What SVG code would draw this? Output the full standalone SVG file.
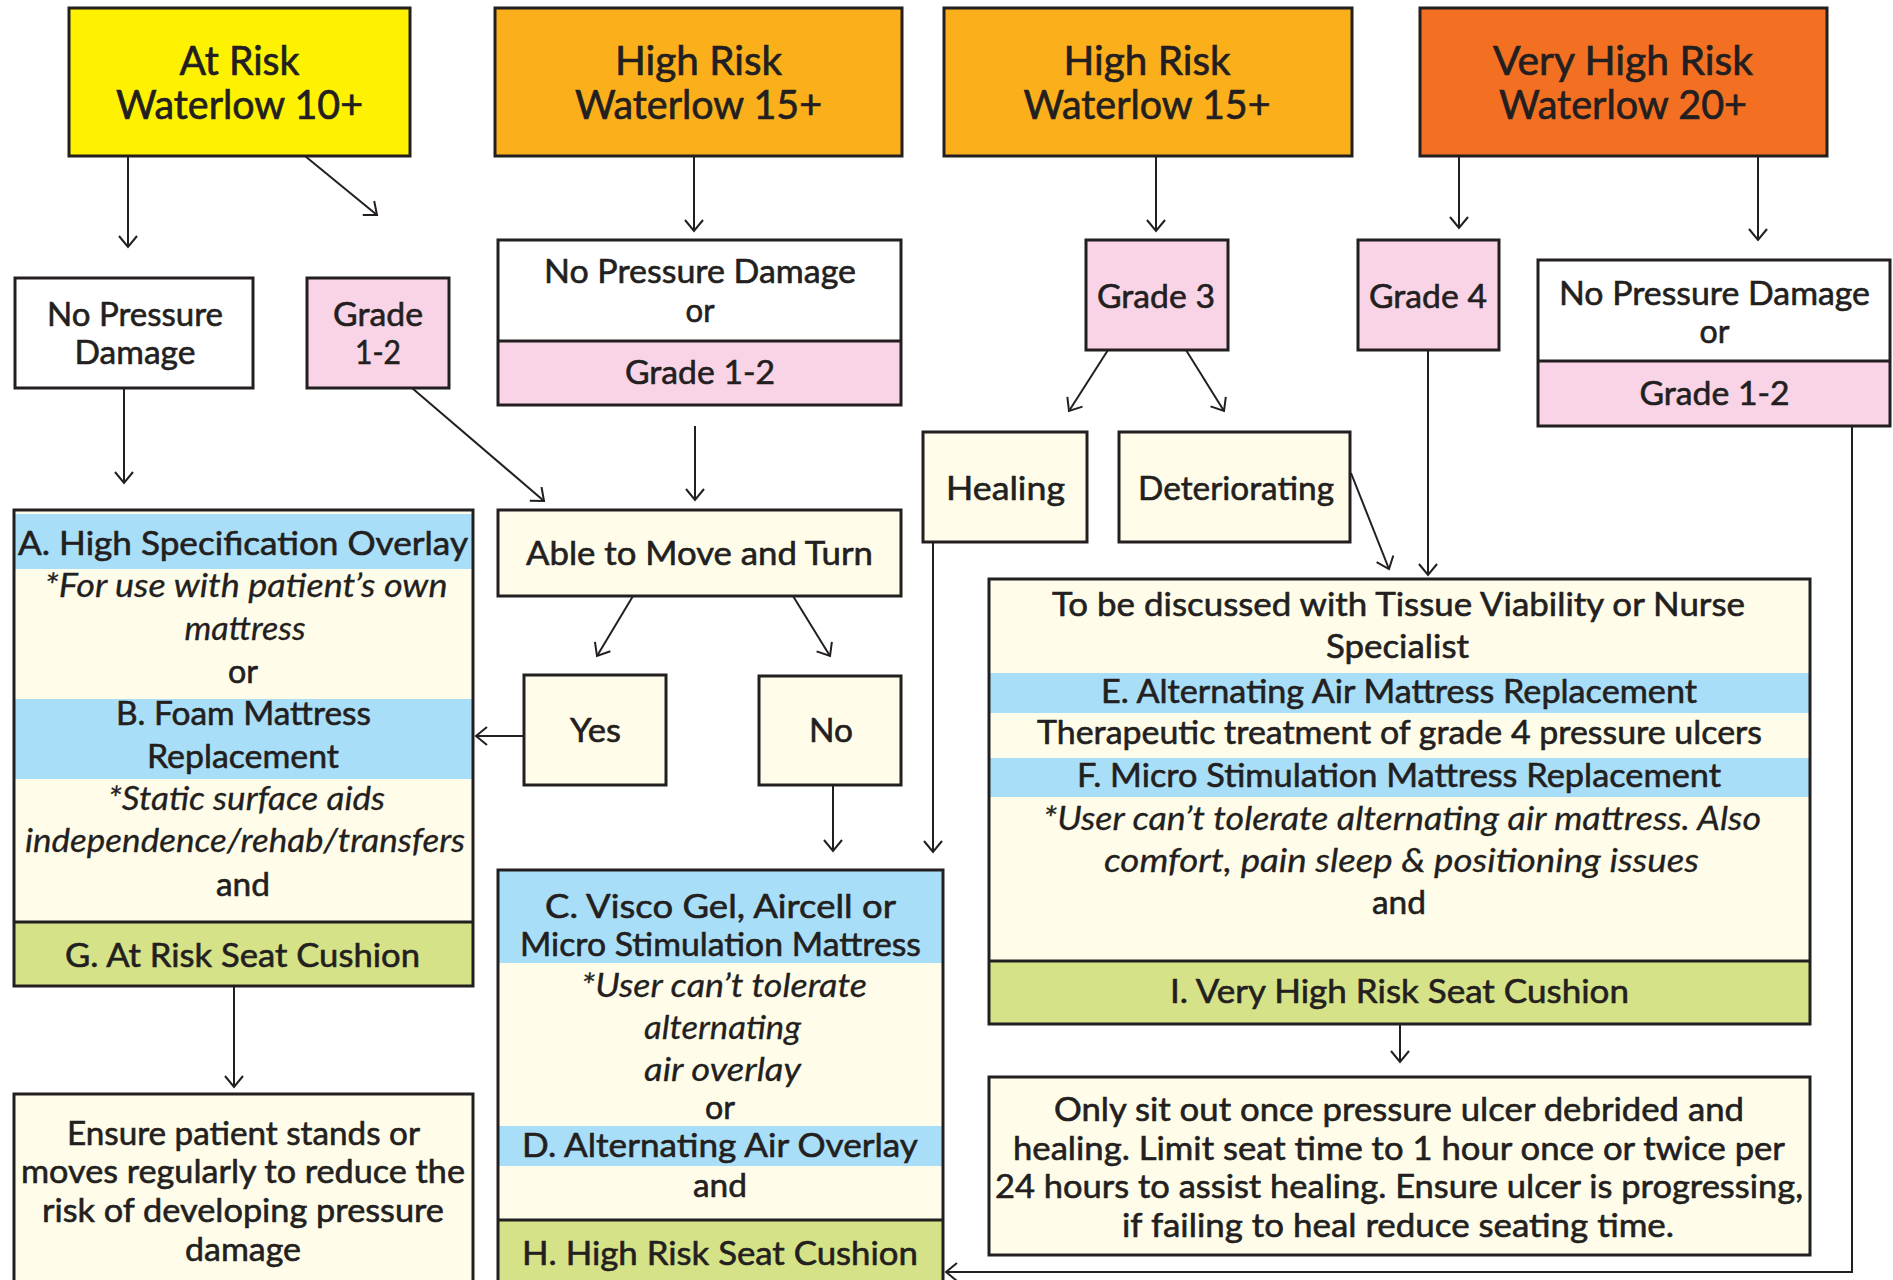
<svg xmlns="http://www.w3.org/2000/svg" width="1893" height="1280" viewBox="0 0 1893 1280">
<style>
.t{font-family:Lato,"Liberation Sans",sans-serif;font-size:33px;fill:#231F20;stroke:#231F20;stroke-width:0.6;text-anchor:middle}
.h{font-size:40px;stroke-width:0.7}
.i{font-style:italic;stroke-width:0.3}
.o{fill:none;stroke:#231F20;stroke-width:3}
.c{fill:none;stroke:#231F20;stroke-width:2}
.cream{fill:#FFFDEA}
.blue{fill:#A9DEF8}
.green{fill:#D6E287}
.pink{fill:#F9D4E6}
.white{fill:#FFFFFF}
</style>
<defs>
<marker id="ah" markerUnits="userSpaceOnUse" markerWidth="24" markerHeight="24" refX="12" refY="10" orient="auto" viewBox="0 0 24 24">
<path d="M1,1 L12,10 L1,19" fill="none" stroke="#231F20" stroke-width="2"/>
</marker>
</defs>
<rect width="1893" height="1280" fill="#FFFFFF"/>

<g id="connectors">
<line class="c" x1="128" y1="156" x2="128" y2="247" marker-end="url(#ah)"/>
<line class="c" x1="305" y1="156" x2="377" y2="215" marker-end="url(#ah)"/>
<line class="c" x1="694" y1="156" x2="694" y2="231" marker-end="url(#ah)"/>
<line class="c" x1="1156" y1="156" x2="1156" y2="231" marker-end="url(#ah)"/>
<line class="c" x1="1459" y1="156" x2="1459" y2="228" marker-end="url(#ah)"/>
<line class="c" x1="1758" y1="156" x2="1758" y2="240" marker-end="url(#ah)"/>
<line class="c" x1="124" y1="388" x2="124" y2="483" marker-end="url(#ah)"/>
<line class="c" x1="412" y1="388" x2="544" y2="501" marker-end="url(#ah)"/>
<line class="c" x1="695" y1="426" x2="695" y2="500" marker-end="url(#ah)"/>
<line class="c" x1="1108" y1="350" x2="1069" y2="411" marker-end="url(#ah)"/>
<line class="c" x1="1186" y1="350" x2="1224" y2="411" marker-end="url(#ah)"/>
<line class="c" x1="1351" y1="473" x2="1389" y2="569" marker-end="url(#ah)"/>
<line class="c" x1="1428" y1="350" x2="1428" y2="575" marker-end="url(#ah)"/>
<line class="c" x1="633" y1="596" x2="597" y2="656" marker-end="url(#ah)"/>
<line class="c" x1="793" y1="596" x2="830" y2="656" marker-end="url(#ah)"/>
<line class="c" x1="524" y1="736" x2="476" y2="736" marker-end="url(#ah)"/>
<line class="c" x1="833" y1="785" x2="833" y2="851" marker-end="url(#ah)"/>
<line class="c" x1="933" y1="542" x2="933" y2="852" marker-end="url(#ah)"/>
<line class="c" x1="234" y1="986" x2="234" y2="1087" marker-end="url(#ah)"/>
<line class="c" x1="1400" y1="1024" x2="1400" y2="1062" marker-end="url(#ah)"/>
<polyline class="c" points="1852,426 1852,1272 946,1272" marker-end="url(#ah)"/>
</g>

<g id="at-risk">
<rect x="69" y="8" width="341" height="148" fill="#FFF200"/>
<rect class="o" x="69" y="8" width="341" height="148"/>
<text class="t h" x="239.5" y="75" textLength="120" lengthAdjust="spacingAndGlyphs">At Risk</text>
<text class="t h" x="239.5" y="119" textLength="247" lengthAdjust="spacingAndGlyphs">Waterlow 10+</text>
</g>

<g id="high-risk-1">
<rect x="495" y="8" width="407" height="148" fill="#FBB01B"/>
<rect class="o" x="495" y="8" width="407" height="148"/>
<text class="t h" x="698.5" y="75" textLength="167" lengthAdjust="spacingAndGlyphs">High Risk</text>
<text class="t h" x="698.5" y="119" textLength="247" lengthAdjust="spacingAndGlyphs">Waterlow 15+</text>
</g>

<g id="high-risk-2">
<rect x="944" y="8" width="408" height="148" fill="#FBB01B"/>
<rect class="o" x="944" y="8" width="408" height="148"/>
<text class="t h" x="1147" y="75" textLength="167" lengthAdjust="spacingAndGlyphs">High Risk</text>
<text class="t h" x="1147" y="119" textLength="247" lengthAdjust="spacingAndGlyphs">Waterlow 15+</text>
</g>

<g id="very-high-risk">
<rect x="1420" y="8" width="407" height="148" fill="#F37022"/>
<rect class="o" x="1420" y="8" width="407" height="148"/>
<text class="t h" x="1623" y="75" textLength="260" lengthAdjust="spacingAndGlyphs">Very High Risk</text>
<text class="t h" x="1623" y="119" textLength="248" lengthAdjust="spacingAndGlyphs">Waterlow 20+</text>
</g>

<g id="no-pressure-1">
<rect class="white o" x="15" y="278" width="238" height="110"/>
<text class="t" x="135" y="326" textLength="176" lengthAdjust="spacingAndGlyphs">No Pressure</text>
<text class="t" x="135" y="364" textLength="121" lengthAdjust="spacingAndGlyphs">Damage</text>
</g>

<g id="grade12-1">
<rect class="pink o" x="307" y="278" width="142" height="110"/>
<text class="t" x="378" y="326" textLength="90" lengthAdjust="spacingAndGlyphs">Grade</text>
<text class="t" x="378" y="364" textLength="46" lengthAdjust="spacingAndGlyphs">1-2</text>
</g>

<g id="np-or-grade-1">
<rect class="white" x="498" y="240" width="403" height="101"/>
<rect class="pink" x="498" y="341" width="403" height="64"/>
<rect class="o" x="498" y="240" width="403" height="165"/>
<line class="o" x1="498" y1="341" x2="901" y2="341"/>
<text class="t" x="700" y="283" textLength="312" lengthAdjust="spacingAndGlyphs">No Pressure Damage</text>
<text class="t" x="700" y="322" textLength="29" lengthAdjust="spacingAndGlyphs">or</text>
<text class="t" x="700" y="384" textLength="150" lengthAdjust="spacingAndGlyphs">Grade 1-2</text>
</g>

<g id="grade3">
<rect class="pink o" x="1086" y="240" width="142" height="110"/>
<text class="t" x="1156" y="308" textLength="118" lengthAdjust="spacingAndGlyphs">Grade 3</text>
</g>

<g id="grade4">
<rect class="pink o" x="1358" y="240" width="141" height="110"/>
<text class="t" x="1428" y="308" textLength="118" lengthAdjust="spacingAndGlyphs">Grade 4</text>
</g>

<g id="np-or-grade-2">
<rect class="white" x="1538" y="260" width="352" height="101"/>
<rect class="pink" x="1538" y="361" width="352" height="65"/>
<rect class="o" x="1538" y="260" width="352" height="166"/>
<line class="o" x1="1538" y1="361" x2="1890" y2="361"/>
<text class="t" x="1714.5" y="305" textLength="311" lengthAdjust="spacingAndGlyphs">No Pressure Damage</text>
<text class="t" x="1714.5" y="343" textLength="30" lengthAdjust="spacingAndGlyphs">or</text>
<text class="t" x="1714.5" y="405" textLength="150" lengthAdjust="spacingAndGlyphs">Grade 1-2</text>
</g>

<g id="healing">
<rect class="cream o" x="923" y="432" width="164" height="110"/>
<text class="t" x="1005.5" y="500" textLength="119" lengthAdjust="spacingAndGlyphs">Healing</text>
</g>

<g id="deteriorating">
<rect class="cream o" x="1119" y="432" width="231" height="110"/>
<text class="t" x="1236" y="500" textLength="196" lengthAdjust="spacingAndGlyphs">Deteriorating</text>
</g>

<g id="able-to-move">
<rect class="cream o" x="498" y="510" width="403" height="86"/>
<text class="t" x="699.5" y="565" textLength="347" lengthAdjust="spacingAndGlyphs">Able to Move and Turn</text>
</g>

<g id="yes">
<rect class="cream o" x="524" y="675" width="142" height="110"/>
<text class="t" x="595.5" y="742" textLength="51" lengthAdjust="spacingAndGlyphs">Yes</text>
</g>

<g id="no">
<rect class="cream o" x="759" y="676" width="142" height="109"/>
<text class="t" x="831" y="742" textLength="44" lengthAdjust="spacingAndGlyphs">No</text>
</g>

<g id="box-a-b-g">
<rect class="cream" x="14" y="510" width="459" height="412"/>
<rect class="blue" x="15" y="514" width="457" height="55"/>
<rect class="blue" x="15" y="699" width="457" height="80"/>
<rect class="green" x="14" y="922" width="459" height="64"/>
<rect class="o" x="14" y="510" width="459" height="476"/>
<line class="o" x1="14" y1="922" x2="473" y2="922"/>
<text class="t" x="243" y="555" textLength="450" lengthAdjust="spacingAndGlyphs">A. High Specification Overlay</text>
<text class="t i" x="246" y="597" textLength="403" lengthAdjust="spacingAndGlyphs">*For use with patient’s own</text>
<text class="t i" x="245" y="640" textLength="121" lengthAdjust="spacingAndGlyphs">mattress</text>
<text class="t" x="243" y="683" textLength="30" lengthAdjust="spacingAndGlyphs">or</text>
<text class="t" x="243.5" y="725" textLength="255" lengthAdjust="spacingAndGlyphs">B. Foam Mattress</text>
<text class="t" x="243" y="768" textLength="192" lengthAdjust="spacingAndGlyphs">Replacement</text>
<text class="t i" x="246.5" y="810" textLength="277" lengthAdjust="spacingAndGlyphs">*Static surface aids</text>
<text class="t i" x="245" y="852" textLength="440" lengthAdjust="spacingAndGlyphs">independence/rehab/transfers</text>
<text class="t" x="243" y="896" textLength="54" lengthAdjust="spacingAndGlyphs">and</text>
<text class="t" x="242.5" y="967" textLength="355" lengthAdjust="spacingAndGlyphs">G. At Risk Seat Cushion</text>
</g>

<g id="ensure">
<rect class="cream o" x="14" y="1094" width="459" height="210"/>
<text class="t" x="243.5" y="1145" textLength="353" lengthAdjust="spacingAndGlyphs">Ensure patient stands or</text>
<text class="t" x="243" y="1183" textLength="444" lengthAdjust="spacingAndGlyphs">moves regularly to reduce the</text>
<text class="t" x="243" y="1222" textLength="402" lengthAdjust="spacingAndGlyphs">risk of developing pressure</text>
<text class="t" x="243" y="1261" textLength="116" lengthAdjust="spacingAndGlyphs">damage</text>
</g>

<g id="box-c-d-h">
<rect class="cream" x="498" y="870" width="445" height="430"/>
<rect class="blue" x="499" y="870" width="443" height="93"/>
<rect class="blue" x="499" y="1126" width="443" height="40"/>
<rect class="green" x="498" y="1220" width="445" height="80"/>
<rect class="o" x="498" y="870" width="445" height="430"/>
<line class="o" x1="498" y1="1220" x2="943" y2="1220"/>
<text class="t" x="720.5" y="918" textLength="351" lengthAdjust="spacingAndGlyphs">C. Visco Gel, Aircell or</text>
<text class="t" x="720.5" y="956" textLength="401" lengthAdjust="spacingAndGlyphs">Micro Stimulation Mattress</text>
<text class="t i" x="724" y="997" textLength="286" lengthAdjust="spacingAndGlyphs">*User can’t tolerate</text>
<text class="t i" x="722.5" y="1039" textLength="157" lengthAdjust="spacingAndGlyphs">alternating</text>
<text class="t i" x="722.5" y="1081" textLength="157" lengthAdjust="spacingAndGlyphs">air overlay</text>
<text class="t" x="720" y="1119" textLength="30" lengthAdjust="spacingAndGlyphs">or</text>
<text class="t" x="720" y="1157" textLength="396" lengthAdjust="spacingAndGlyphs">D. Alternating Air Overlay</text>
<text class="t" x="720" y="1197" textLength="54" lengthAdjust="spacingAndGlyphs">and</text>
<text class="t" x="720" y="1265" textLength="396" lengthAdjust="spacingAndGlyphs">H. High Risk Seat Cushion</text>
</g>

<g id="box-e-f-i">
<rect class="cream" x="989" y="579" width="821" height="382"/>
<rect class="blue" x="990" y="673" width="819" height="40"/>
<rect class="blue" x="990" y="758" width="819" height="39"/>
<rect class="green" x="989" y="961" width="821" height="63"/>
<rect class="o" x="989" y="579" width="821" height="445"/>
<line class="o" x1="989" y1="961" x2="1810" y2="961"/>
<text class="t" x="1398.5" y="616" textLength="693" lengthAdjust="spacingAndGlyphs">To be discussed with Tissue Viability or Nurse</text>
<text class="t" x="1397.5" y="658" textLength="143" lengthAdjust="spacingAndGlyphs">Specialist</text>
<text class="t" x="1399" y="703" textLength="596" lengthAdjust="spacingAndGlyphs">E. Alternating Air Mattress Replacement</text>
<text class="t" x="1399.5" y="744" textLength="725" lengthAdjust="spacingAndGlyphs">Therapeutic treatment of grade 4 pressure ulcers</text>
<text class="t" x="1399" y="787" textLength="644" lengthAdjust="spacingAndGlyphs">F. Micro Stimulation Mattress Replacement</text>
<text class="t i" x="1402" y="830" textLength="718" lengthAdjust="spacingAndGlyphs">*User can’t tolerate alternating air mattress. Also</text>
<text class="t i" x="1401.5" y="872" textLength="595" lengthAdjust="spacingAndGlyphs">comfort, pain sleep &amp; positioning issues</text>
<text class="t" x="1399" y="914" textLength="54" lengthAdjust="spacingAndGlyphs">and</text>
<text class="t" x="1399.5" y="1003" textLength="459" lengthAdjust="spacingAndGlyphs">I. Very High Risk Seat Cushion</text>
</g>

<g id="only-sit-out">
<rect class="cream o" x="989" y="1077" width="821" height="178"/>
<text class="t" x="1399" y="1121" textLength="690" lengthAdjust="spacingAndGlyphs">Only sit out once pressure ulcer debrided and</text>
<text class="t" x="1399" y="1160" textLength="772" lengthAdjust="spacingAndGlyphs">healing. Limit seat time to 1 hour once or twice per</text>
<text class="t" x="1399" y="1198" textLength="808" lengthAdjust="spacingAndGlyphs">24 hours to assist healing. Ensure ulcer is progressing,</text>
<text class="t" x="1398" y="1237" textLength="552" lengthAdjust="spacingAndGlyphs">if failing to heal reduce seating time.</text>
</g>
</svg>
